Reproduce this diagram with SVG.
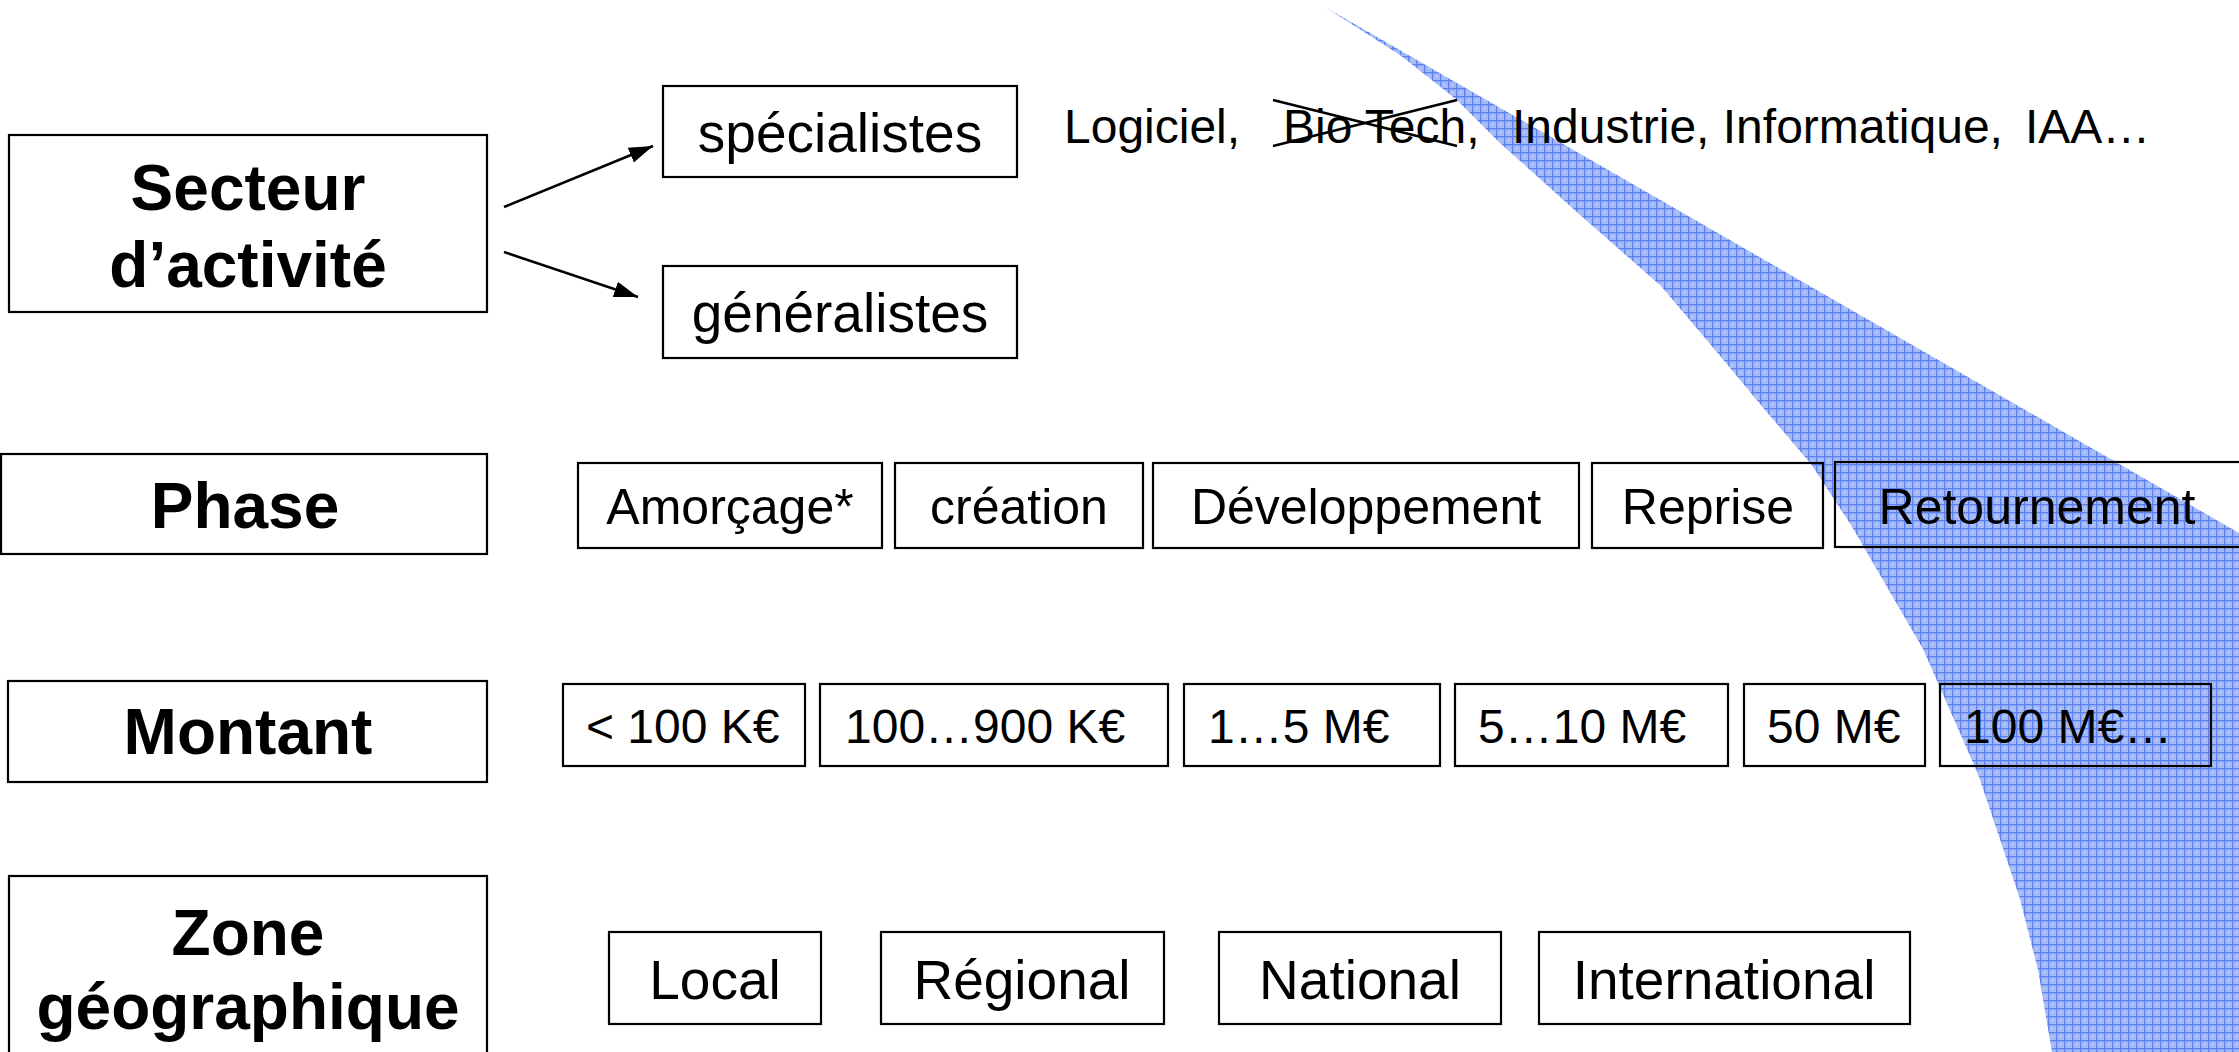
<svg xmlns="http://www.w3.org/2000/svg" width="2239" height="1052" viewBox="0 0 2239 1052">
<style>
.box{fill:none;stroke:#000;stroke-width:2.2}
.hb{font-family:"Liberation Sans",Arial,sans-serif;font-weight:bold;font-size:64px;text-anchor:middle;fill:#000}
.t55{font-family:"Liberation Sans",Arial,sans-serif;font-size:55px;text-anchor:middle;fill:#000}
.t50{font-family:"Liberation Sans",Arial,sans-serif;font-size:50px;text-anchor:middle;fill:#000}
.t48{font-family:"Liberation Sans",Arial,sans-serif;font-size:48px;fill:#000}
.con{stroke:#000;stroke-width:2.5;fill:none}
</style>
<defs>
<pattern id="hatch" width="8" height="8" patternUnits="userSpaceOnUse">
<rect width="8" height="8" fill="#a3b9f8"/>
<rect x="0" y="0" width="8" height="1.3" fill="#5d80ef"/>
<rect x="0" y="0" width="1.3" height="8" fill="#5d80ef"/>
<rect x="4" y="4" width="1" height="1" fill="#dfe7fd"/>
</pattern>
<marker id="arr" markerUnits="userSpaceOnUse" markerWidth="26" markerHeight="18" refX="24" refY="8" orient="auto">
<path d="M0,0 L24,8 L0,16 z" fill="#000"/>
</marker>
</defs>
<rect width="2239" height="1052" fill="#fff"/>

<path id="wedge" d="M1325,7 L2239,533 L2239,1052 L2052,1052 L2038,970 L2020,899 L1978,774 L1923,649 L1851,525 L1811,464 L1765,410 L1721,357 L1661,286 L1579,214 L1500,143 L1457,100 L1400,55 Z" fill="url(#hatch)"/>

<g id="n-secteur">
<rect class="box" x="9" y="135" width="478" height="177"/>
<text class="hb" x="248" y="210">Secteur</text>
<text class="hb" x="248" y="287">d’activité</text>
</g>
<g id="n-specialistes">
<rect class="box" x="663" y="86" width="354" height="91"/>
<text class="t55" x="840" y="152">spécialistes</text>
</g>
<g id="n-generalistes">
<rect class="box" x="663" y="266" width="354" height="92"/>
<text class="t55" x="840" y="332">généralistes</text>
</g>
<g id="n-phase">
<rect class="box" x="1" y="454" width="486" height="100"/>
<text class="hb" x="245" y="528">Phase</text>
</g>
<g id="n-montant">
<rect class="box" x="8" y="681" width="479" height="101"/>
<text class="hb" x="248" y="754">Montant</text>
</g>
<g id="n-zone">
<rect class="box" x="9" y="876" width="478" height="190"/>
<text class="hb" x="248" y="955">Zone</text>
<text class="hb" x="248" y="1029">géographique</text>
</g>

<g id="phase-items">
<g id="n-amorcage"><rect class="box" x="578" y="463" width="304" height="85"/><text class="t50" x="730" y="524">Amorçage*</text></g>
<g id="n-creation"><rect class="box" x="895" y="463" width="248" height="85"/><text class="t50" x="1019" y="524">création</text></g>
<g id="n-developpement"><rect class="box" x="1153" y="463" width="426" height="85"/><text class="t50" x="1366" y="524">Développement</text></g>
<g id="n-reprise"><rect class="box" x="1592" y="463" width="231" height="85"/><text class="t50" x="1708" y="524">Reprise</text></g>
<g id="n-retournement"><rect class="box" x="1835" y="462" width="420" height="85"/><text class="t50" x="2037" y="524">Retournement</text></g>
</g>

<g id="montant-items">
<g id="n-m1"><rect class="box" x="563" y="684" width="242" height="82"/><text class="t48" x="586" y="743">&lt; 100 K€</text></g>
<g id="n-m2"><rect class="box" x="820" y="684" width="348" height="82"/><text class="t48" x="845" y="743">100…900 K€</text></g>
<g id="n-m3"><rect class="box" x="1184" y="684" width="256" height="82"/><text class="t48" x="1208" y="743">1…5 M€</text></g>
<g id="n-m4"><rect class="box" x="1455" y="684" width="273" height="82"/><text class="t48" x="1478" y="743">5…10 M€</text></g>
<g id="n-m5"><rect class="box" x="1744" y="684" width="181" height="82"/><text class="t48" x="1767" y="743">50 M€</text></g>
<g id="n-m6"><rect class="box" x="1940" y="684" width="271" height="82"/><text class="t48" x="1964" y="743">100 M€…</text></g>
</g>

<g id="zone-items">
<g id="n-local"><rect class="box" x="609" y="932" width="212" height="92"/><text class="t55" x="715" y="999">Local</text></g>
<g id="n-regional"><rect class="box" x="881" y="932" width="283" height="92"/><text class="t55" x="1022" y="999">Régional</text></g>
<g id="n-national"><rect class="box" x="1219" y="932" width="282" height="92"/><text class="t55" x="1360" y="999">National</text></g>
<g id="n-international"><rect class="box" x="1539" y="932" width="371" height="92"/><text class="t55" x="1724" y="999">International</text></g>
</g>

<g id="sector-list">
<text class="t48" y="143"><tspan x="1064">Logiciel,</tspan><tspan x="1283">Bio Tech,</tspan><tspan x="1512">Industrie, Informatique,</tspan><tspan x="2025">IAA…</tspan></text>
<line x1="1273" y1="100" x2="1457" y2="146" stroke="#000" stroke-width="2.5"/>
<line x1="1273" y1="146" x2="1457" y2="100" stroke="#000" stroke-width="2.5"/>
</g>

<g id="connectors">
<line class="con" x1="504" y1="207" x2="653" y2="146" marker-end="url(#arr)"/>
<line class="con" x1="504" y1="252" x2="638" y2="297" marker-end="url(#arr)"/>
</g>
</svg>
